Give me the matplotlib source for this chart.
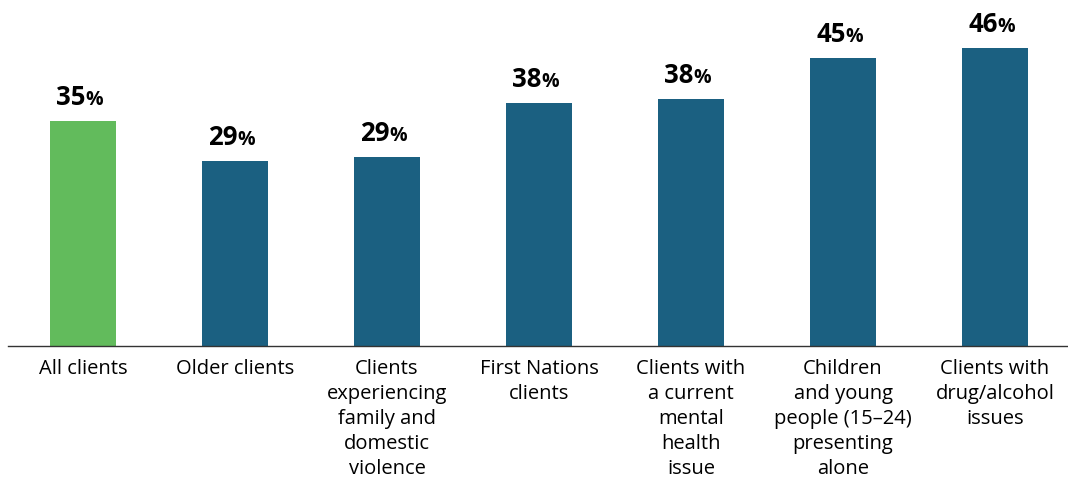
import matplotlib.pyplot as plt

categories = [
    "All clients",
    "Older clients",
    "Clients\nexperiencing\nfamily and\ndomestic\nviolence",
    "First Nations\nclients",
    "Clients with\na current\nmental\nhealth\nissue",
    "Children\nand young\npeople (15\u201324)\npresenting\nalone",
    "Clients with\ndrug/alcohol\nissues",
]
values = [35.0, 28.8, 29.4, 37.8, 38.4, 44.8, 46.4]
colors = ["#62bb5c"] + ["#1b6081"] * 6

plt.rcParams["font.family"] = ["Open Sans", "DejaVu Sans"]

fig = plt.figure(figsize=(10.68, 4.79), dpi=100)
ax = fig.add_axes([8 / 1068, 133 / 479, 1060 / 1068, 321.5 / 479])

x = list(range(len(categories)))
ax.bar(x, values, width=0.434, color=colors)

ax.set_xlim(-0.493, 6.48)
ax.set_ylim(0, 50)

# value labels: number, then a slightly smaller percent sign
for xi, v in zip(x, values):
    ax.annotate(f"{round(v):d}", (xi, v), xytext=(2, 11.5), textcoords="offset points",
                ha="right", va="baseline", fontsize=18.5, fontweight="bold", color="black")
    ax.annotate("%", (xi, v), xytext=(2, 11.5), textcoords="offset points",
                ha="left", va="baseline", fontsize=14, fontweight="bold", color="black")

ax.set_xticks(x)
ax.set_xticklabels(categories, fontsize=14.5, color="black", linespacing=1.34)
ax.tick_params(axis="x", length=0, pad=9)
ax.set_yticks([])

for side in ["top", "right", "left"]:
    ax.spines[side].set_visible(False)
ax.spines["bottom"].set_color("#333333")
ax.spines["bottom"].set_linewidth(1)

fig.savefig("out.png", dpi=100)
